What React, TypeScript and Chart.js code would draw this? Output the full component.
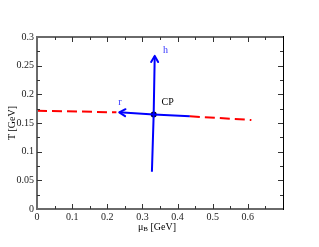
import React, { useEffect, useRef } from "react";
import { Chart, registerables } from "chart.js";
Chart.register(...registerables);

// Crossover line (red dashed), left and right of the critical point
const redLeftX = [0, 0.226];
const redLeftY = [0.1715, 0.1686];
const redRightX = [0.435, 0.61];
const redRightY = [0.1617, 0.1552];
// r direction (blue), ends in arrow at last point
const rAxisX = [0.435, 0.332, 0.234];
const rAxisY = [0.1617, 0.165, 0.1686];
// h direction (blue), ends in arrow at last point
const hAxisX = [0.327, 0.332, 0.335];
const hAxisY = [0.065, 0.165, 0.267];
// critical point
const cpX = [0.332];
const cpY = [0.165];
// annotations
const labelTexts = ["h", "r", "CP"];
const labelX = [0.366, 0.236, 0.372];
const labelY = [0.277, 0.186, 0.186];
const labelColors = ["#3333ff", "#3333ff", "#000000"];
// ticks
const xTickValues = [0, 0.1, 0.2, 0.3, 0.4, 0.5, 0.6];
const yTickValues = [0, 0.05, 0.1, 0.15, 0.2, 0.25, 0.3];
const xMinorStep = 0.05;
const yMinorStep = 0.025;

const pts = (xs: number[], ys: number[]) => xs.map((x, i) => ({ x, y: ys[i] }));

const SERIF = "'Liberation Serif', 'DejaVu Serif', serif";

const framePlugin = {
  id: "frameTicks",
  afterDraw(chart: any) {
    const { ctx, chartArea } = chart;
    const { left, right, top, bottom } = chartArea;
    const xs = chart.scales.x;
    const ys = chart.scales.y;
    ctx.save();
    // frame
    ctx.strokeStyle = "#6a6a6a";
    ctx.lineWidth = 2;
    ctx.beginPath();
    ctx.moveTo(right, top);
    ctx.lineTo(left, top);
    ctx.lineTo(left, bottom);
    ctx.lineTo(right, bottom);
    ctx.stroke();
    ctx.strokeStyle = "#000";
    ctx.lineWidth = 1;
    ctx.beginPath();
    ctx.moveTo(Math.round(right) + 0.5, top - 1);
    ctx.lineTo(Math.round(right) + 0.5, bottom + 1);
    ctx.stroke();
    // ticks
    ctx.strokeStyle = "#333";
    ctx.lineWidth = 1;
    const drawX = (v: number, len: number) => {
      const px = Math.round(xs.getPixelForValue(v)) + 0.5;
      if (px <= left + 1 || px >= right - 1) return;
      ctx.beginPath();
      ctx.moveTo(px, bottom);
      ctx.lineTo(px, bottom - len);
      ctx.moveTo(px, top);
      ctx.lineTo(px, top + len);
      ctx.stroke();
    };
    const drawY = (v: number, len: number) => {
      const py = Math.round(ys.getPixelForValue(v)) + 0.5;
      if (py <= top + 1 || py >= bottom - 1) return;
      ctx.beginPath();
      ctx.moveTo(left, py);
      ctx.lineTo(left + len, py);
      ctx.moveTo(right, py);
      ctx.lineTo(right - len, py);
      ctx.stroke();
    };
    for (let i = 0; i * xMinorStep <= xs.max + 1e-9; i++) {
      drawX(i * xMinorStep, i % 2 === 0 ? 5 : 3);
    }
    for (let i = 0; i * yMinorStep <= ys.max + 1e-9; i++) {
      drawY(i * yMinorStep, i % 2 === 0 ? 5 : 3);
    }
    // arrowheads
    chart.data.datasets.forEach((ds: any, di: number) => {
      if (!ds.arrow) return;
      const meta = chart.getDatasetMeta(di);
      const n = meta.data.length;
      const p1 = meta.data[n - 2];
      const p2 = meta.data[n - 1];
      const ang = Math.atan2(p2.y - p1.y, p2.x - p1.x);
      const L = 7;
      const a = Math.PI / 6;
      ctx.strokeStyle = ds.borderColor;
      ctx.lineWidth = 2;
      ctx.lineCap = "round";
      ctx.lineJoin = "round";
      ctx.beginPath();
      ctx.moveTo(p2.x - L * Math.cos(ang - a), p2.y - L * Math.sin(ang - a));
      ctx.lineTo(p2.x, p2.y);
      ctx.lineTo(p2.x - L * Math.cos(ang + a), p2.y - L * Math.sin(ang + a));
      ctx.stroke();
    });
    // labels
    ctx.font = `10px ${SERIF}`;
    ctx.textAlign = "center";
    ctx.textBaseline = "middle";
    labelTexts.forEach((t, i) => {
      ctx.fillStyle = labelColors[i];
      ctx.fillText(t, xs.getPixelForValue(labelX[i]), ys.getPixelForValue(labelY[i]));
    });
    // axis titles
    ctx.fillStyle = "#000";
    // x title with subscript
    const cx = 157;
    const cy = 227;
    const mu = "μ";
    const sub = "B";
    const rest = " [GeV]";
    ctx.font = `10px ${SERIF}`;
    const wMu = ctx.measureText(mu).width;
    const wRest = ctx.measureText(rest).width;
    ctx.font = `7px ${SERIF}`;
    const wSub = ctx.measureText(sub).width;
    const total = wMu + wSub + wRest;
    let x0 = cx - total / 2;
    ctx.textAlign = "left";
    ctx.font = `10px ${SERIF}`;
    ctx.fillText(mu, x0, cy);
    x0 += wMu;
    ctx.font = `7px ${SERIF}`;
    ctx.fillText(sub, x0, cy + 2);
    x0 += wSub;
    ctx.font = `10px ${SERIF}`;
    ctx.fillText(rest, x0, cy);
    // y title
    ctx.save();
    ctx.translate(12, (top + bottom) / 2);
    ctx.rotate(-Math.PI / 2);
    ctx.textAlign = "center";
    ctx.fillText("T [GeV]", 0, 0);
    ctx.restore();
    ctx.restore();
  },
};

export default function App() {
  const ref = useRef<HTMLCanvasElement>(null);
  useEffect(() => {
    if (!ref.current) return;
    const chart = new Chart(ref.current, {
      type: "scatter",
      data: {
        datasets: [
          {
            data: pts(redLeftX, redLeftY),
            showLine: true,
            borderColor: "#ff0000",
            borderWidth: 2,
            borderDash: [10, 5],
            pointRadius: 0,
          },
          {
            data: pts(redRightX, redRightY),
            showLine: true,
            borderColor: "#ff0000",
            borderWidth: 2,
            borderDash: [10, 5],
            pointRadius: 0,
          },
          {
            data: pts(rAxisX, rAxisY),
            showLine: true,
            borderColor: "#0000ff",
            borderWidth: 2,
            pointRadius: 0,
            arrow: true,
          } as any,
          {
            data: pts(hAxisX, hAxisY),
            showLine: true,
            borderColor: "#0000ff",
            borderWidth: 2,
            pointRadius: 0,
            arrow: true,
          } as any,
          {
            data: pts(cpX, cpY),
            showLine: false,
            pointRadius: 3,
            pointBorderWidth: 0,
            pointBackgroundColor: "#000",
            pointBorderColor: "#000",
          },
        ],
      },
      options: {
        animation: false,
        responsive: true,
        maintainAspectRatio: false,
        layout: { padding: { left: 0, top: 37, right: 36, bottom: 0 } },
        plugins: { legend: { display: false }, tooltip: { enabled: false } },
        scales: {
          x: {
            type: "linear",
            min: 0,
            max: 0.7,
            grid: { display: false, drawTicks: false },
            border: { display: false },
            afterBuildTicks: (s: any) => {
              s.ticks = xTickValues.map((v) => ({ value: v }));
            },
            afterFit: (s: any) => {
              s.height = 38;
            },
            ticks: {
              padding: 2,
              color: "#222",
              font: { family: SERIF, size: 10 },
              callback: (v: any) => String(Number(v)),
            },
          },
          y: {
            type: "linear",
            min: 0,
            max: 0.3,
            grid: { display: false, drawTicks: false },
            border: { display: false },
            afterBuildTicks: (s: any) => {
              s.ticks = yTickValues.map((v) => ({ value: v }));
            },
            afterFit: (s: any) => {
              s.width = 37;
            },
            ticks: {
              padding: 3,
              color: "#222",
              font: { family: SERIF, size: 10 },
              callback: (v: any) => String(Number(v)),
            },
          },
        },
      },
      plugins: [framePlugin],
    });
    return () => chart.destroy();
  }, []);
  return (
    <div style={{ position: "absolute", left: 0, top: 0, width: 319, height: 247 }}>
      <canvas ref={ref} />
    </div>
  );
}
